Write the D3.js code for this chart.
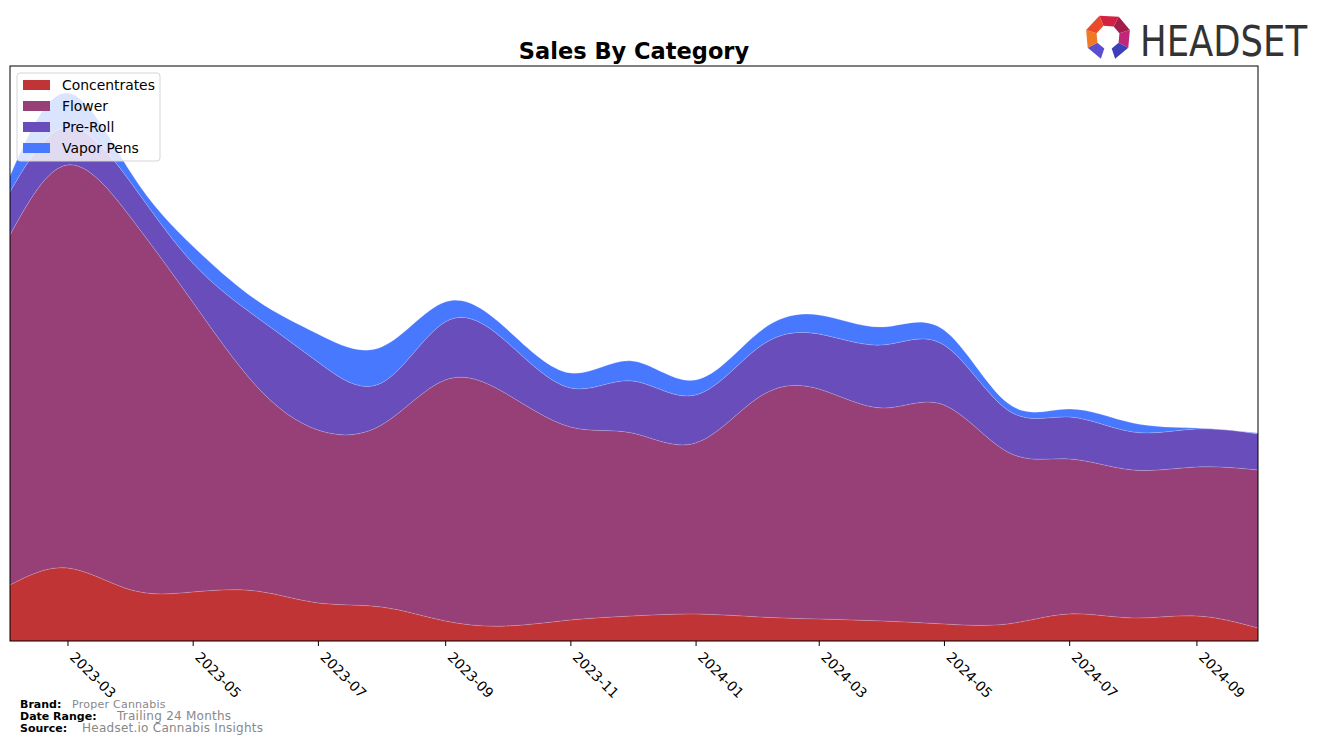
<!DOCTYPE html>
<html>
<head>
<meta charset="utf-8">
<script src="https://cdn.jsdelivr.net/npm/d3@7"></script>
<style>
  body { margin: 0; background: #fff; }
  svg { font-family: "DejaVu Sans", sans-serif; }
</style>
</head>
<body>
<div id="chart"></div>
<script>
// monthly sales per category (arbitrary units)
const months = ["2023-02","2023-03","2023-04","2023-05","2023-06","2023-07","2023-08","2023-09","2023-10","2023-11","2023-12",
                "2024-01","2024-02","2024-03","2024-04","2024-05","2024-06","2024-07","2024-08","2024-09","2024-10"];
const concentrates = [56,73,51,49,50,38,34,20,15,21,25,27,24,22,20,17,17,27,23,25,13];
const flower       = [350,403,372,290,205,173,182,241,232,193,183,171,220,230,213,219,172,155,148,149,158];
const preRoll      = [43,38,35,39,69,68,42,58,52,39,52,48,50,55,63,60,42,42,38,38,36];
const vaporPens    = [16,34,10,17,17,28,36,20,13,15,20,15,15,19,18,15,7,8,9,1,1];

const categories = ["Concentrates", "Flower", "Pre-Roll", "Vapor Pens"];
const colors = ["#c13435", "#964077", "#684dbb", "#4878fe"];

const width = 1322, height = 745;
const margin = {top: 66, right: 64, bottom: 104, left: 10};

const parse = d3.utcParse("%Y-%m");
const rows = months.map((m, i) => ({
    date: parse(m),
    "Concentrates": concentrates[i],
    "Flower": flower[i],
    "Pre-Roll": preRoll[i],
    "Vapor Pens": vaporPens[i]
}));

const svg = d3.select('#chart')
    .append('svg')
    .attr('width', width)
    .attr('height', height);

const x = d3.scaleUtc()
    .domain(d3.extent(rows, d => d.date))
    .range([margin.left, width - margin.right]);

const y = d3.scaleLinear()
    .domain([0, 575])
    .range([height - margin.bottom, margin.top]);

const stacked = d3.stack().keys(categories)(rows);

const area = d3.area()
    .curve(d3.curveNatural)
    .x(d => x(d.data.date))
    .y0(d => y(d[0]))
    .y1(d => y(d[1]));

const topLine = d3.line()
    .curve(d3.curveNatural)
    .x(d => x(d.data.date))
    .y(d => y(d[1]));

svg.append('defs').append('clipPath').attr('id', 'plot')
    .append('rect')
    .attr('x', margin.left).attr('y', margin.top)
    .attr('width', width - margin.left - margin.right)
    .attr('height', height - margin.top - margin.bottom);

const g = svg.append('g').attr('clip-path', 'url(#plot)');

g.selectAll('path.layer')
    .data(stacked)
    .join('path')
    .attr('class', 'layer')
    .attr('fill', (d, i) => colors[i])
    .attr('d', area);

g.selectAll('path.edge')
    .data(stacked)
    .join('path')
    .attr('class', 'edge')
    .attr('fill', 'none')
    .attr('stroke', 'rgba(255,255,255,0.3)')
    .attr('stroke-width', 0.7)
    .attr('d', topLine);

// frame
svg.append('rect')
    .attr('x', margin.left).attr('y', margin.top)
    .attr('width', width - margin.left - margin.right)
    .attr('height', height - margin.top - margin.bottom)
    .attr('fill', 'none')
    .attr('stroke', '#000')
    .attr('stroke-width', 1);

// x axis
const xAxis = svg.append('g')
    .attr('transform', `translate(0,${height - margin.bottom})`)
    .call(d3.axisBottom(x)
        .ticks(d3.utcMonth.every(2))
        .tickFormat(d3.utcFormat("%Y-%m"))
        .tickSize(5)
        .tickPadding(4));
xAxis.select('.domain').remove();
xAxis.selectAll('line').attr('stroke', '#000');
xAxis.selectAll('text')
    .attr('font-size', 13.9)
    .attr('font-family', 'DejaVu Sans')
    .attr('fill', '#000')
    .attr('text-anchor', 'start')
    .attr('dy', null)
    .attr('y', 0)
    .attr('transform', 'translate(1,17) rotate(45)');

// title
svg.append('text')
    .attr('x', (margin.left + width - margin.right) / 2)
    .attr('y', 59)
    .attr('text-anchor', 'middle')
    .attr('font-size', 22.5)
    .attr('font-weight', 'bold')
    .text('Sales By Category');

// legend
const legend = svg.append('g').attr('transform', 'translate(17,73)');
legend.append('rect')
    .attr('width', 143).attr('height', 88)
    .attr('rx', 3)
    .attr('fill', 'rgba(255,255,255,0.8)')
    .attr('stroke', '#d5d5d5');
categories.forEach((c, i) => {
    const row = legend.append('g').attr('transform', `translate(6,${12 + i * 21})`);
    row.append('rect')
        .attr('x', 0).attr('y', -5)
        .attr('width', 27).attr('height', 10)
        .attr('fill', colors[i]);
    row.append('text')
        .attr('x', 39).attr('y', 5)
        .attr('font-size', 13.9)
        .text(c);
});

// footer
const foot = [
    ["Brand:", "Proper Cannabis", 72, 11],
    ["Date Range:", "Trailing 24 Months", 117, 12],
    ["Source:", "Headset.io Cannabis Insights", 82, 12]
];
foot.forEach((f, i) => {
    svg.append('text')
        .attr('x', 20).attr('y', 708 + i * 12)
        .attr('font-size', 11)
        .attr('font-weight', 'bold')
        .text(f[0]);
    svg.append('text')
        .attr('x', f[2]).attr('y', 708 + i * 12)
        .attr('font-size', f[3])
        .attr('fill', '#888')
        .attr('letter-spacing', 0.25)
        .text(f[1]);
});

// logo
const logo = svg.append('g').attr('transform', 'translate(1108,37)');
const ring = [
    {a0: -112, a1: -62, c: "#d4213f"},
    {a0: -62, a1: -18, c: "#a51d4a"},
    {a0: -18, a1: 28, c: "#c0267a"},
    {a0: 28, a1: 72, c: "#3d3fb8"},
    {a0: 108, a1: 152, c: "#5b4fd0"},
    {a0: 152, a1: 198, c: "#f07a24"},
    {a0: 198, a1: 248, c: "#e94a2a"}
];
const ro = 23, ri = 12;
ring.forEach(s => {
    const p = a => [Math.cos(a * Math.PI / 180), Math.sin(a * Math.PI / 180)];
    const [c0, s0] = p(s.a0), [c1, s1] = p(s.a1);
    logo.append('path')
        .attr('d', `M${ro * c0},${ro * s0}L${ro * c1},${ro * s1}L${ri * c1},${ri * s1}L${ri * c0},${ri * s0}Z`)
        .attr('fill', s.c);
});
svg.append('text')
    .attr('x', 1140).attr('y', 56)
    .attr('font-size', 42)
    .attr('font-family', '"Liberation Sans Narrow", "DejaVu Sans Condensed", sans-serif')
    .attr('fill', '#333')
    .attr('textLength', 167)
    .attr('lengthAdjust', 'spacingAndGlyphs')
    .text('HEADSET');
</script>
</body>
</html>
